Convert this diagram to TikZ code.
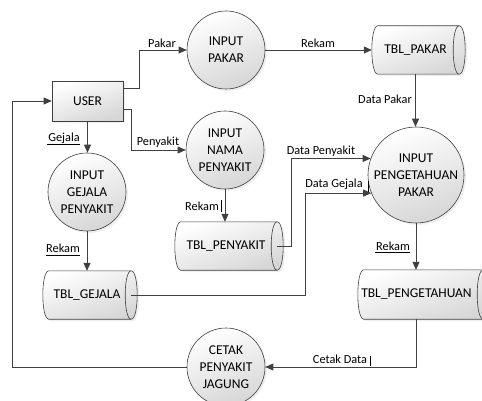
\documentclass[tikz,border=0pt]{standalone}
\usepackage{fontspec}
\setmainfont{Carlito}
\usetikzlibrary{arrows.meta,calc,shadows}
\newcommand{\mainsz}{\fontsize{13.5}{17}\selectfont}
\newcommand{\lblsz}{\fontsize{12.3}{14}\selectfont}
\definecolor{ln}{HTML}{404040}
\tikzset{
  shapefill/.style={top color=white, bottom color=black!16, shading angle=20},
  shadowed/.style={drop shadow={opacity=0.12, shadow xshift=2pt, shadow yshift=-2pt}},
  proc/.style={circle, draw=ln, line width=0.6pt, minimum size=78pt, inner sep=0pt,
    align=center, font=\mainsz, shapefill, shadowed},
  ent/.style={rectangle, draw=ln, line width=0.6pt, minimum width=71pt, minimum height=40pt,
    inner sep=0pt, font=\mainsz, shapefill, shadowed},
  store/.style={rectangle, minimum height=48pt, inner sep=0pt, font=\mainsz},
  storeline/.style={draw=ln, line width=0.6pt},
  arr/.style={draw=ln, line width=0.8pt, -{Triangle[length=8pt,width=7pt]}},
  lbl/.style={font=\lblsz, inner sep=0pt, text=black},
  tick/.style={draw=black, line width=0.5pt},
}
% #1 node name, #2 text x offset, #3 text
\newcommand{\datastore}[3]{%
  \path[storeline, shapefill, shadowed]
    ($(#1.north west)+(6,0)$) -- (#1.north east)
    .. controls +(8,0) and +(8,0) .. (#1.south east)
    -- ($(#1.south west)+(6,0)$)
    .. controls +(-8,0) and +(-8,0) .. ($(#1.north west)+(6,0)$) -- cycle;
  \draw[storeline] (#1.north east) .. controls +(-8,0) and +(-8,0) .. (#1.south east);
  \node[font=\mainsz] (#1-text) at ($(#1.center)+(#2,0)$) {#3};
}
\begin{document}
\begin{tikzpicture}[x=1pt,y=-1pt]
\clip (0,0) rectangle (482,401);
\fill[white] (0,0) rectangle (482,401);

% processes
\node[proc] (pakar) at (226,50) {INPUT\\PAKAR};
\node[proc] (nama) at (225,150) {INPUT\\NAMA\\PENYAKIT};
\node[proc] (gejala) at (87,192) {INPUT\\GEJALA\\PENYAKIT};
\node[proc, minimum size=96pt] (peng) at (416,175) {INPUT\\PENGETAHUAN\\PAKAR};
\node[proc] (cetak) at (226,367) {CETAK\\PENYAKIT\\JAGUNG};
\node[ent] (user) at (87.5,101) {USER};

% data stores (node spans left tip to centre of right ellipse)
\node[store, minimum width=87pt] (tblpakar) at (415.5,50) {};
\node[store, minimum width=102pt] (tblpenyakit) at (226,246) {};
\node[store, minimum width=88pt] (tblgejala) at (87,295) {};
\node[store, minimum width=125pt, minimum height=49pt] (tblpeng) at (420.5,294.5) {};
\datastore{tblpakar}{0}{TBL\_PAKAR}
\datastore{tblpenyakit}{0}{TBL\_PENYAKIT}
\datastore{tblgejala}{0}{TBL\_GEJALA}
\datastore{tblpeng}{-4}{TBL\_PENGETAHUAN}

% connectors
\coordinate (u1) at ($(user.north east)+(0,8)$);
\coordinate (u2) at ($(user.north east)+(0,29)$);
\draw[arr] (u1) -- ++(16,0) |- (pakar.west);
\draw[arr] (pakar.east) -- (tblpakar.west);
\draw[arr] (tblpakar.south) -- (tblpakar.south |- peng.north);
\draw[arr] (u2) -- ++(8,0) |- (nama.west);
\draw[arr] (nama.south) -- (nama.south |- tblpenyakit.north);
\draw[arr] (tblpenyakit.east) -- ++(14,0) |- (peng.160);
\draw[arr] (tblgejala.east) -- ++(174,0) |- (peng.202);
\draw[arr] (user.south) -- (user.south |- gejala.north);
\draw[arr] (gejala.south) -- (gejala.south |- tblgejala.north);
\draw[arr] (peng.south) -- (peng.south |- tblpeng.north);
\draw[arr] (peng.south |- tblpeng.south) |- (cetak.east);
\draw[arr] (cetak.west) -- ++(-174,0) |- (user.west);

% labels
\node[lbl, anchor=south] (lpakar) at (162,48) {Pakar};
\node[lbl, anchor=south] (lrekam1) at (318,48) {Rekam};
\node[lbl] (ldatapakar) at (385,99) {Data Pakar};
\node[lbl, anchor=south] (lpenyakit) at (158,148) {Penyakit};
\node[lbl] (lrekam2) at (202,206) {Rekam};
\draw[tick] (221,200) -- (221,212);
\node[lbl, anchor=south] (ldatapenyakit) at (321,157) {Data Penyakit};
\node[lbl, anchor=south] (ldatagejala) at (334,190) {Data Gejala};
\draw[tick] (368,181) -- (368,192);
\node[lbl] (lgejala) at (64,138) {Gejala};
\draw[tick] (47,144.5) -- (80,144.5);
\node[lbl] (lrekam3) at (63,248) {Rekam};
\draw[tick] (46,255) -- (80,255);
\node[lbl] (lrekam4) at (393,246) {Rekam};
\draw[tick] (375,252) -- (410,252);
\node[lbl, anchor=south] (lcetak) at (340,364) {Cetak Data};
\draw[tick] (370,356) -- (370,366);
\end{tikzpicture}
\end{document}
